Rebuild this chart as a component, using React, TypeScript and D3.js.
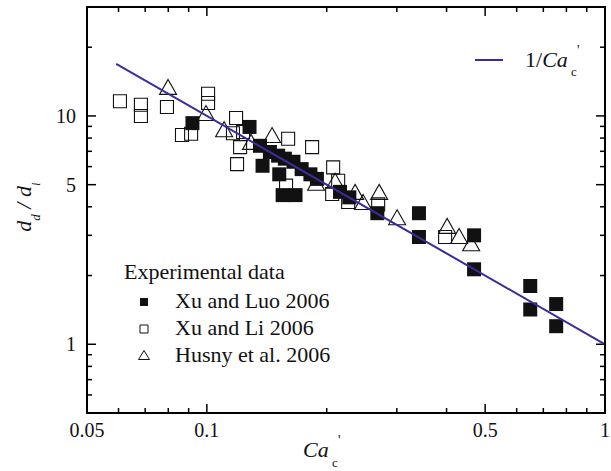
import React from "react";
import * as d3 from "d3";

// ---- data ----
const luoX = [0.092, 0.128, 0.136, 0.144, 0.151, 0.157, 0.165, 0.173, 0.182, 0.189, 0.138, 0.152, 0.155, 0.167, 0.216, 0.228, 0.268, 0.341, 0.341, 0.469, 0.469, 0.649, 0.649, 0.754, 0.754];
const luoY = [9.3, 8.95, 7.4, 6.95, 6.7, 6.5, 6.3, 5.85, 5.55, 5.3, 6.05, 5.55, 4.5, 4.5, 4.65, 4.4, 3.75, 3.75, 2.95, 3.0, 2.13, 1.8, 1.42, 1.5, 1.2];

const liX = [0.0605, 0.0683, 0.0683, 0.0794, 0.0866, 0.0913, 0.1007, 0.1007, 0.1184, 0.1163, 0.1233, 0.1212, 0.1191, 0.16, 0.1838, 0.1581, 0.2076, 0.2064, 0.2264, 0.2693, 0.2137, 0.3967];
const liY = [11.6, 11.2, 10.0, 10.95, 8.25, 8.35, 12.5, 11.4, 9.8, 8.4, 8.5, 7.3, 6.15, 7.95, 7.3, 4.95, 5.95, 4.55, 4.2, 4.1, 5.2, 2.95];

const husnyX = [0.0799, 0.0995, 0.1105, 0.1291, 0.1458, 0.1881, 0.21, 0.2357, 0.2468, 0.2709, 0.3005, 0.4013, 0.4301, 0.4612];
const husnyY = [13.4, 10.3, 8.75, 7.7, 8.25, 5.1, 5.2, 4.65, 4.2, 4.65, 3.6, 3.3, 2.98, 2.77];

// model line 1/Ca endpoints
const modelX = [0.0592, 1];

const xMajor = [0.05, 0.1, 0.5, 1];
const xMajorLabels = ["0.05", "0.1", "0.5", "1"];
const xMinor = [0.06, 0.07, 0.08, 0.09, 0.2, 0.3, 0.4, 0.6, 0.7, 0.8, 0.9];
const yMajor = [1, 5, 10];
const yMajorLabels = ["1", "5", "10"];
const yMinor = [0.6, 0.7, 0.8, 0.9, 2, 3, 4, 6, 7, 8, 9, 20];

const legendLabels = ["Xu and Luo 2006", "Xu and Li 2006", "Husny et al. 2006"];

const W = 611, H = 471;
const L = 87, R = 605, T = 7, B = 413;
const FONT = '"Liberation Serif"';
const LINE_COLOR = "#3b2c9c";

const sq = (s: number) => `M${-s / 2},${-s / 2}h${s}v${s}h${-s}Z`;
const tri = (w: number, h: number) => `M0,${-h / 2}L${w / 2},${h / 2}L${-w / 2},${h / 2}Z`;

export default function App() {
  const x = d3.scaleLog().domain([0.05, 1]).range([L, R]);
  const y = d3.scaleLog().domain([0.5, 30]).range([B, T]);
  const line = d3.line<number>().x((d) => x(d)).y((d) => y(1 / d));

  const majLen = 9, minLen = 5;
  const ts = { fontFamily: FONT };

  return (
    <svg width={W} height={H} style={{ position: "absolute", left: 0, top: 0 }}>
      <rect x={0} y={0} width={W} height={H} fill="#fff" />
      {/* ticks */}
      <g stroke="#000" strokeWidth={1.5}>
        {xMajor.map((v, i) => (
          <g key={"xm" + i}>
            <line x1={x(v)} x2={x(v)} y1={B} y2={B - majLen} />
            <line x1={x(v)} x2={x(v)} y1={T} y2={T + majLen} />
          </g>
        ))}
        {xMinor.map((v, i) => (
          <g key={"xn" + i}>
            <line x1={x(v)} x2={x(v)} y1={B} y2={B - minLen} />
            <line x1={x(v)} x2={x(v)} y1={T} y2={T + minLen} />
          </g>
        ))}
        {yMajor.map((v, i) => (
          <g key={"ym" + i}>
            <line x1={L} x2={L + majLen} y1={y(v)} y2={y(v)} />
            <line x1={R} x2={R - majLen} y1={y(v)} y2={y(v)} />
          </g>
        ))}
        {yMinor.map((v, i) => (
          <g key={"yn" + i}>
            <line x1={L} x2={L + minLen} y1={y(v)} y2={y(v)} />
            <line x1={R} x2={R - minLen} y1={y(v)} y2={y(v)} />
          </g>
        ))}
      </g>
      {/* tick labels */}
      {xMajor.map((v, i) => (
        <text key={"xl" + i} x={x(v)} y={437} textAnchor="middle" fontSize={20} fill="#111" style={ts}>{xMajorLabels[i]}</text>
      ))}
      {yMajor.map((v, i) => (
        <text key={"yl" + i} x={76} y={y(v) + 7} textAnchor="end" fontSize={20} fill="#111" style={ts}>{yMajorLabels[i]}</text>
      ))}
      {/* data */}
      <g fill="none" stroke="#111" strokeWidth={1.1}>
        {liX.map((v, i) => (
          <path key={"li" + i} d={sq(13)} transform={`translate(${x(v)},${y(liY[i])})`} />
        ))}
        {husnyX.map((v, i) => (
          <path key={"hu" + i} d={tri(17, 15)} transform={`translate(${x(v)},${y(husnyY[i])})`} />
        ))}
      </g>
      <g fill="#111">
        {luoX.map((v, i) => (
          <path key={"lu" + i} d={sq(14)} transform={`translate(${x(v)},${y(luoY[i])})`} />
        ))}
      </g>
      <path d={line(modelX) || ""} fill="none" stroke={LINE_COLOR} strokeWidth={2} />
      {/* frame */}
      <rect x={L} y={T} width={R - L} height={B - T} fill="none" stroke="#000" strokeWidth={2} />
      {/* top-right legend */}
      <line x1={475} x2={503} y1={60} y2={60} stroke={LINE_COLOR} strokeWidth={2} />
      <text x={525} y={67} fontSize={22} fill="#111" style={ts}>
        1/<tspan fontStyle="italic">Ca</tspan>
      </text>
      <text x={571} y={76} fontSize={13} fill="#111" style={ts}>c</text>
      <text x={577} y={55} fontSize={14} fill="#111" style={ts}>'</text>
      {/* bottom-left legend */}
      <text x={124} y={279} fontSize={22} fill="#111" style={ts}>Experimental data</text>
      <path d={sq(8)} transform="translate(144,302)" fill="#111" />
      <path d={sq(8)} transform="translate(144,329)" fill="none" stroke="#111" strokeWidth={1} />
      <path d={tri(11, 9)} transform="translate(144,355)" fill="none" stroke="#111" strokeWidth={1} />
      {legendLabels.map((t, i) => (
        <text key={"lg" + i} x={175} y={308 + i * 27} fontSize={22} fill="#111" style={ts}>{t}</text>
      ))}
      {/* axis titles */}
      <text x={303} y={457} fontSize={22} fontStyle="italic" fill="#111" style={ts}>Ca</text>
      <text x={332} y={467} fontSize={13} fill="#111" style={ts}>c</text>
      <text x={338} y={445} fontSize={14} fill="#111" style={ts}>'</text>
      <text transform="translate(31,207) rotate(-90)" textAnchor="middle" fontSize={22} fontStyle="italic" fill="#111" style={ts}>
        d<tspan fontSize={13} dy={9}>d</tspan>
        <tspan dy={-9}> / d</tspan>
        <tspan fontSize={13} dy={9}>i</tspan>
      </text>
    </svg>
  );
}
